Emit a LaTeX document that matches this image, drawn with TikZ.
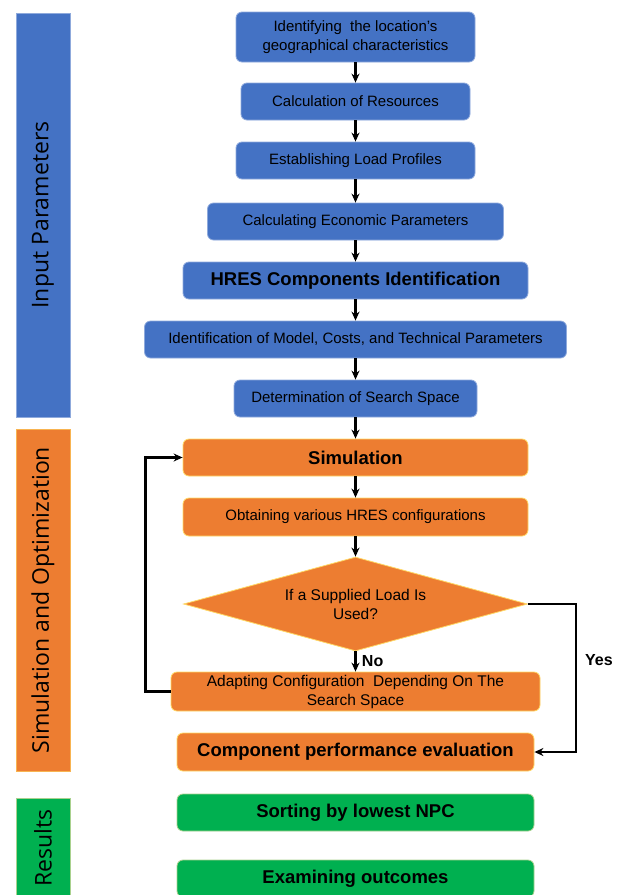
\documentclass[tikz,border=0pt]{standalone}
\usepackage{fontspec}
\setmainfont{Liberation Sans}
\newfontfamily\sidefont{Open Sans}
\usetikzlibrary{shapes.geometric,arrows.meta,positioning}
\definecolor{inblue}{HTML}{4472C4}
\definecolor{inblueline}{HTML}{8FAADC}
\definecolor{simorange}{HTML}{ED7D31}
\definecolor{simline}{HTML}{FFD966}
\definecolor{resgreen}{HTML}{00B050}
\definecolor{resline}{HTML}{A9D18E}

\begin{document}
\begin{tikzpicture}[x=1pt,y=-1pt,
    box/.style={rounded corners=6pt, line width=0.8pt, align=center,
      inner sep=0pt, text=black, font=\fontsize{15}{19}\selectfont},
    inbox/.style={box, draw=inblueline, fill=inblue},
    simbox/.style={box, draw=simline, fill=simorange},
    resbox/.style={box, draw=resline, fill=resgreen},
    boldtxt/.style={font=\fontsize{18.5}{21}\selectfont\bfseries},
    sidebar/.style={rotate=90, minimum height=54pt, inner sep=0pt,
      line width=0.8pt, text=black, font=\sidefont\fontsize{23}{26}\selectfont},
    flow/.style={-{Stealth[length=9pt,width=8pt]}, line width=2.3pt}]
  \useasboundingbox (0,0) rectangle (619,895);
  \def\cx{355.5}

  % side bars
  \node[sidebar, draw=inblueline, fill=inblue, minimum width=404pt] (inbar) at (43,215) {Input Parameters};
  \node[sidebar, draw=simline!60!simorange, fill=simorange, minimum width=342pt] (simbar) at (43,600) {Simulation and Optimization};
  \node[sidebar, draw=resline, fill=resgreen, minimum width=100pt] (resbar) at (43,848) {Results};

  % input parameters
  \node[inbox, minimum width=239pt, minimum height=50pt] (geo) at (\cx,37) {Identifying\ \ the location's\\geographical characteristics};
  \node[inbox, minimum width=229pt, minimum height=37pt] (resrc) at (\cx,101.5) {Calculation of Resources};
  \node[inbox, minimum width=239pt, minimum height=37pt] (load) at (\cx,160.5) {Establishing Load Profiles};
  \node[inbox, minimum width=296pt, minimum height=37pt] (econ) at (\cx,221.5) {Calculating Economic Parameters};
  \node[inbox, boldtxt, minimum width=345pt, minimum height=37pt] (hres) at (\cx,280.5) {HRES Components Identification};
  \node[inbox, minimum width=422pt, minimum height=37pt] (model) at (\cx,339.5) {Identification of Model, Costs, and Technical Parameters};
  \node[inbox, minimum width=243pt, minimum height=37pt] (space) at (\cx,398.5) {Determination of Search Space};

  % simulation and optimization
  \node[simbox, boldtxt, minimum width=345pt, minimum height=37pt] (sim) at (\cx,457.5) {Simulation};
  \node[simbox, minimum width=345pt, minimum height=38pt] (config) at (\cx,517) {Obtaining various HRES configurations};
  \node[diamond, aspect=3.66, fill=simorange, draw=simline, line width=0.8pt, inner sep=0pt,
    minimum width=344pt, minimum height=94pt, align=center, text=black,
    font=\fontsize{15.5}{19}\selectfont] (check) at (\cx,604) {If a Supplied Load Is\\Used?};
  \node[simbox, minimum width=369pt, minimum height=39pt, font=\fontsize{15.5}{19}\selectfont] (adapt) at (\cx,691.5) {Adapting Configuration\ \ Depending On The\\Search Space};
  \node[simbox, boldtxt, minimum width=357pt, minimum height=38pt] (perf) at (\cx,752) {Component performance evaluation};

  % results
  \node[resbox, boldtxt, minimum width=357pt, minimum height=37pt] (sort) at (\cx,812.5) {Sorting by lowest NPC};
  \node[resbox, boldtxt, minimum width=357pt, minimum height=37pt] (exam) at (\cx,878.5) {Examining outcomes};

  % connectors
  \draw[flow] (geo) -- (resrc);
  \draw[flow] (resrc) -- (load);
  \draw[flow] (load) -- (econ);
  \draw[flow] (econ) -- (hres);
  \draw[flow] (hres) -- (model);
  \draw[flow] (model) -- (space);
  \draw[flow] (space) -- (sim);
  \draw[flow] (sim) -- (config);
  \draw[flow] (config) -- (check);
  \draw[flow] (check) -- node[right=2pt, font=\fontsize{16}{18}\selectfont\bfseries] (no) {No} (adapt);
  \draw[flow] (adapt.west) -- ++(-25,0) |- (sim.west);
  \draw[flow] (check.east) -- ++(48,0) coordinate (turn) |- (perf.east);
  \node[anchor=west, inner sep=0pt, font=\fontsize{16}{18}\selectfont\bfseries] (yes) at (585,660) {Yes};
\end{tikzpicture}
\end{document}
